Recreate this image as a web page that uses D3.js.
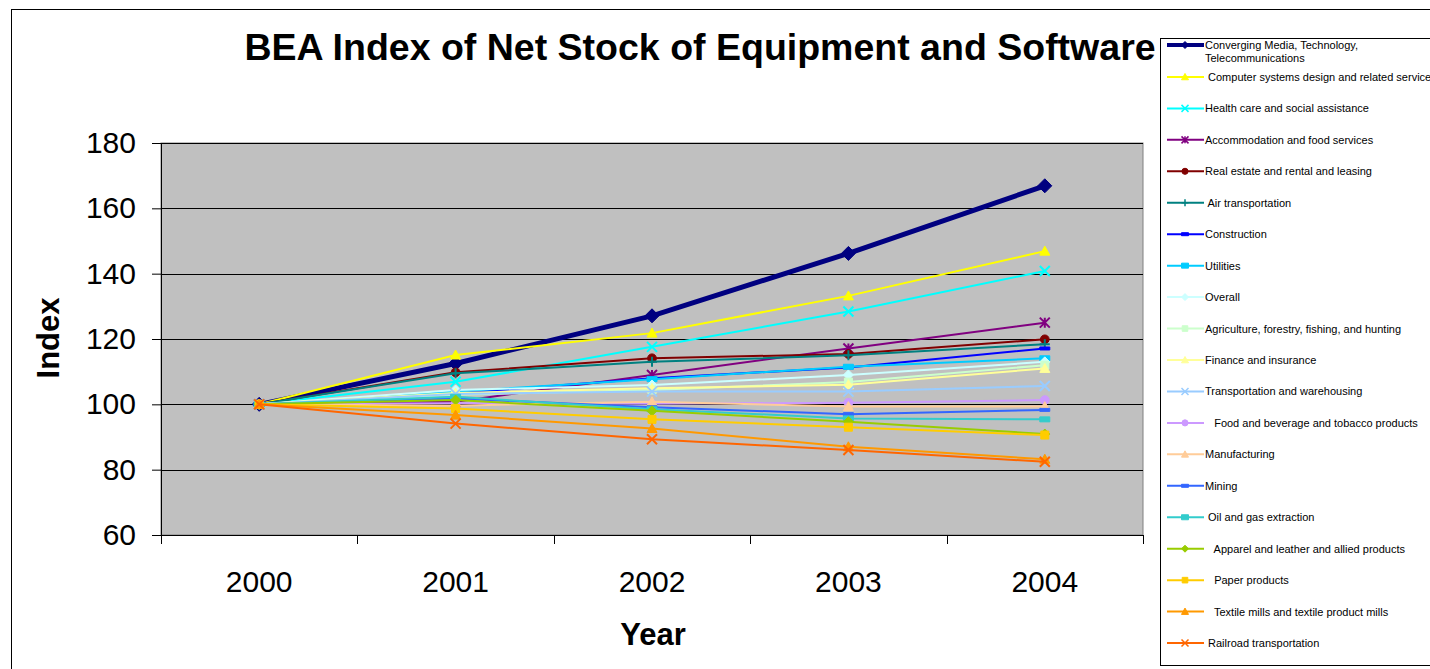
<!DOCTYPE html>
<html>
<head>
<meta charset="utf-8">
<script src="https://cdn.jsdelivr.net/npm/d3@7"></script>
<style>
  body { margin: 0; background: #fff; }
  svg { display: block; font-family: "Liberation Sans", Arial, sans-serif; }
  text { white-space: pre; }
</style>
</head>
<body>
<svg id="chart" width="1430" height="669"></svg>
<script>
// data
const years = ['2000', '2001', '2002', '2003', '2004'];
const seriesNames = [
  'Converging Media, Technology,|Telecommunications',
  ' Computer systems design and related services',
  'Health care and social assistance',
  'Accommodation and food services',
  'Real estate and rental and leasing',
  ' Air transportation',
  'Construction',
  'Utilities',
  'Overall',
  'Agriculture, forestry, fishing, and hunting',
  'Finance and insurance',
  'Transportation and warehousing',
  '   Food and beverage and tobacco products',
  'Manufacturing',
  'Mining',
  ' Oil and gas extraction',
  '   Apparel and leather and allied products',
  '   Paper products',
  '   Textile mills and textile product mills',
  ' Railroad transportation'
];
const seriesValues = [
  [100, 112.5, 127.1, 146.2, 166.9],
  [100, 115.1, 121.8, 133.2, 146.9],
  [100, 106.9, 117.6, 128.4, 140.8],
  [100, 100.8, 109.0, 117.1, 125.0],
  [100, 109.8, 114.1, 115.4, 119.9],
  [100, 109.5, 113.0, 115.0, 118.4],
  [100, 103.4, 108.0, 111.3, 117.1],
  [100, 103.9, 107.7, 111.5, 114.1],
  [100, 104.4, 105.9, 109.0, 113.0],
  [100, 102.9, 104.4, 106.8, 112.0],
  [100, 103.5, 104.9, 106.0, 111.0],
  [100, 103.2, 103.9, 103.9, 105.6],
  [100, 100.3, 100.2, 100.5, 101.3],
  [100, 99.6, 100.8, 99.3, 99.3],
  [100, 101.8, 99.1, 97.0, 98.3],
  [100, 102.3, 98.5, 95.7, 95.4],
  [100, 101.3, 98.0, 94.7, 90.9],
  [100, 98.7, 95.4, 93.0, 90.6],
  [100, 96.7, 92.6, 87.0, 83.2],
  [100, 94.1, 89.3, 86.0, 82.4]
];
const seriesColors = [
  '#000080', '#FFFF00', '#00FFFF', '#800080', '#800000', '#008080', '#0000FF',
  '#00CCFF', '#CCFFFF', '#CCFFCC', '#FFFF99', '#99CCFF', '#CC99FF', '#FFCC99',
  '#3366FF', '#33CCCC', '#99CC00', '#FFCC00', '#FF9900', '#FF6600'
];
const seriesMarkers = [
  'diamond', 'triangle', 'x', 'star', 'circle', 'plus', 'dash', 'bar', 'diamond', 'square',
  'triangle', 'x', 'circle', 'triangle', 'dash', 'bar', 'diamond', 'square', 'triangle', 'x'
];
const yTicks = [60, 80, 100, 120, 140, 160, 180];

const svg = d3.select('#chart');
const plot = { left: 161, right: 1143, top: 143, bottom: 535 };

// outer chart frame
svg.append('rect')
  .attr('x', 11.5).attr('y', 9.5)
  .attr('width', 1440).attr('height', 680)
  .attr('fill', '#fff').attr('stroke', '#000').attr('stroke-width', 1);

const x = d3.scalePoint().domain(years).range([plot.left, plot.right]).padding(0.5);
const xBand = d3.scaleBand().domain(years).range([plot.left, plot.right]);
const y = d3.scaleLinear().domain([60, 180]).range([plot.bottom, plot.top]);

svg.append('rect')
  .attr('x', plot.left).attr('y', plot.top)
  .attr('width', plot.right - plot.left).attr('height', plot.bottom - plot.top)
  .attr('fill', '#C0C0C0').attr('stroke', '#808080');

// gridlines
svg.append('g')
  .selectAll('line')
  .data(yTicks.slice(1))
  .join('line')
  .attr('x1', plot.left).attr('x2', plot.right)
  .attr('y1', d => Math.round(y(d)) + 0.5).attr('y2', d => Math.round(y(d)) + 0.5)
  .attr('stroke', '#000').attr('stroke-width', 1);

// y axis
const yAxis = svg.append('g')
  .attr('transform', `translate(${plot.left},0)`)
  .call(d3.axisLeft(y).tickValues(yTicks).tickSize(9).tickPadding(16));
yAxis.select('.domain').attr('stroke', '#000');
yAxis.selectAll('text').attr('font-size', '30px').attr('fill', '#000')
  .style('font-family', '"Liberation Sans", Arial, sans-serif');

// x axis, ticks between categories
const xAxis = svg.append('g')
  .attr('transform', `translate(0,${plot.bottom})`);
xAxis.append('line')
  .attr('x1', plot.left).attr('x2', plot.right)
  .attr('y1', 0.5).attr('y2', 0.5).attr('stroke', '#000');
xAxis.selectAll('line.tick')
  .data(years.concat(['end']))
  .join('line')
  .attr('class', 'tick')
  .attr('x1', (d, i) => Math.round(plot.left + i * xBand.bandwidth()) + 0.5)
  .attr('x2', (d, i) => Math.round(plot.left + i * xBand.bandwidth()) + 0.5)
  .attr('y1', 0).attr('y2', 9).attr('stroke', '#000');
xAxis.selectAll('text')
  .data(years)
  .join('text')
  .attr('x', d => x(d))
  .attr('y', 57)
  .attr('text-anchor', 'middle')
  .attr('font-size', '30px')
  .text(d => d);

// axis titles and chart title
svg.append('text')
  .attr('x', 653).attr('y', 645)
  .attr('text-anchor', 'middle')
  .attr('font-size', '31px').attr('font-weight', 'bold')
  .text('Year');
svg.append('text')
  .attr('transform', 'translate(59,338) rotate(-90)')
  .attr('text-anchor', 'middle')
  .attr('font-size', '31px').attr('font-weight', 'bold')
  .text('Index');
svg.append('text')
  .attr('x', 700).attr('y', 60)
  .attr('text-anchor', 'middle')
  .attr('font-size', '37.5px').attr('font-weight', 'bold')
  .text('BEA Index of Net Stock of Equipment and Software');

function markerPath(type, s) {
  const h = s / 2;
  switch (type) {
    case 'diamond': return `M0,${-h}L${h},0L0,${h}L${-h},0Z`;
    case 'triangle': return `M0,${-h}L${h},${h * 0.8}L${-h},${h * 0.8}Z`;
    case 'square': return `M${-h * 0.8},${-h * 0.8}h${s * 0.8}v${s * 0.8}h${-s * 0.8}Z`;
    case 'circle': return d3.symbol(d3.symbolCircle, s * s * 0.6)();
    case 'x': return `M${-h},${-h}L${h},${h}M${-h},${h}L${h},${-h}`;
    case 'plus': return `M0,${-h}L0,${h}M${-h},0L${h},0`;
    case 'star': return `M${-h},${-h}L${h},${h}M${-h},${h}L${h},${-h}M0,${-h}L0,${h}`;
    case 'dash': return `M${-h},-1.5h${s}v3h${-s}Z`;
    case 'bar': return `M${-h},-2.5h${s}v5h${-s}Z`;
  }
}
const openMarkers = ['x', 'plus', 'star'];

const line = d3.line()
  .x((d, i) => x(years[i]))
  .y(d => y(d));

const series = seriesValues.map((vals, k) => ({
  name: seriesNames[k], values: vals, color: seriesColors[k], marker: seriesMarkers[k], idx: k
}));

const lines = svg.append('g');
series.forEach(s => {
  const g = lines.append('g');
  g.append('path')
    .attr('d', line(s.values))
    .attr('fill', 'none')
    .attr('stroke', s.color)
    .attr('stroke-width', s.idx === 0 ? 5 : 2);
  g.selectAll('path.mk')
    .data(s.values)
    .join('path')
    .attr('class', 'mk')
    .attr('transform', (d, i) => `translate(${x(years[i])},${y(d)})`)
    .attr('d', markerPath(s.marker, s.idx === 0 ? 14 : 10))
    .attr('fill', openMarkers.includes(s.marker) ? 'none' : s.color)
    .attr('stroke', s.color)
    .attr('stroke-width', openMarkers.includes(s.marker) ? 2 : 1);
});

// legend
const legend = svg.append('g');
legend.append('rect')
  .attr('x', 1160.5).attr('y', 38.5)
  .attr('width', 300).attr('height', 627)
  .attr('fill', '#fff').attr('stroke', '#000');

const legendStep = 31.45;
series.forEach((s, k) => {
  const cy = 45 + k * legendStep + (k === 0 ? 0 : 0.5);
  const g = legend.append('g');
  g.append('line')
    .attr('x1', 1167).attr('x2', 1204)
    .attr('y1', cy).attr('y2', cy)
    .attr('stroke', s.color).attr('stroke-width', k === 0 ? 4 : 2);
  g.append('path')
    .attr('transform', `translate(1185,${cy})`)
    .attr('d', markerPath(s.marker, 7))
    .attr('fill', openMarkers.includes(s.marker) ? 'none' : s.color)
    .attr('stroke', s.color)
    .attr('stroke-width', openMarkers.includes(s.marker) ? 1.5 : 1);
  const parts = s.name.split('|');
  parts.forEach((p, j) => {
    g.append('text')
      .attr('x', 1205).attr('y', cy + 4 + j * 13)
      .attr('font-size', '11px')
      .attr('fill', '#000')
      .text(p);
  });
});
</script>
</body>
</html>
